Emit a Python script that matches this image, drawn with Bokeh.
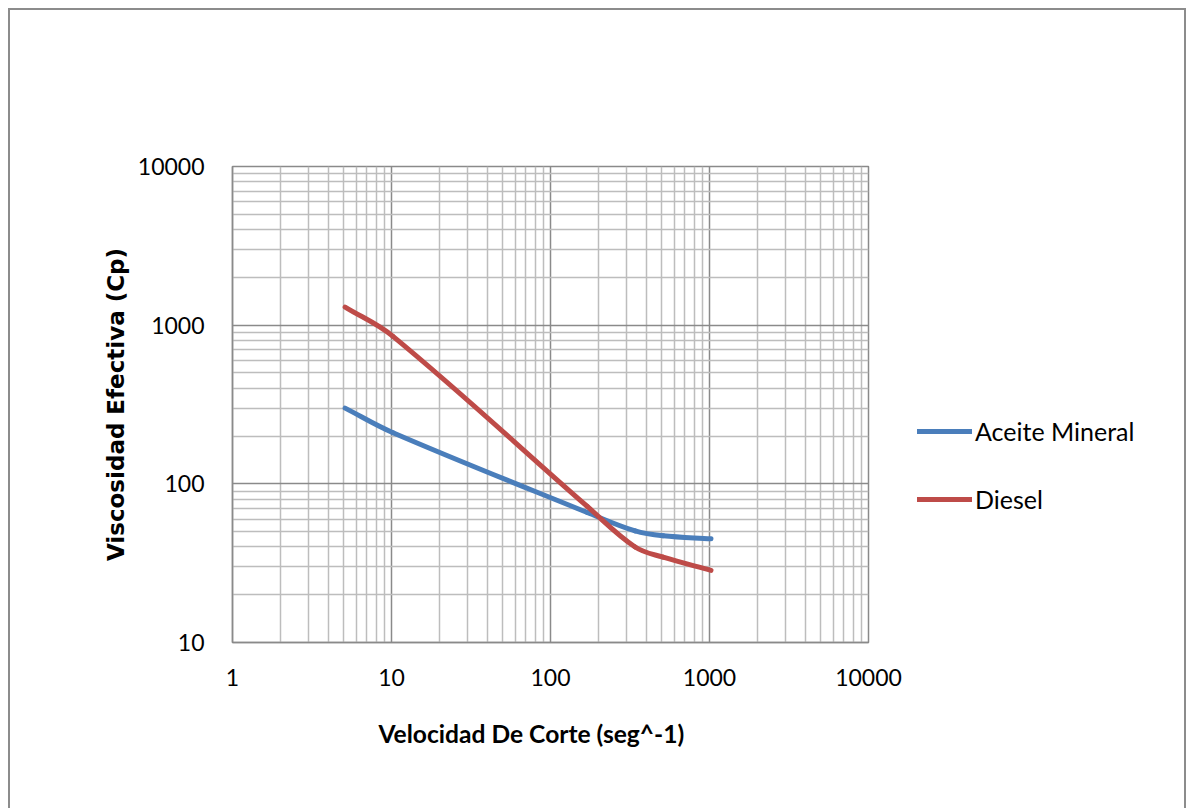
import numpy as np
from bokeh.plotting import figure
from bokeh.layouts import row
from bokeh.models import FixedTicker, NumeralTickFormatter, Legend, LegendItem, Title, Range1d
from bokeh.embed import file_html
from bokeh.resources import INLINE

# Shear rates (1/s) and effective viscosities (cP)
shear_rate = [5.11, 10.22, 170.3, 340.6, 510.9, 1021.8]
aceite_mineral = [300, 210, 66, 50.5, 47, 45]
diesel = [1300, 850, 72, 40, 34.5, 28.5]
series_names = ["Aceite Mineral", "Diesel"]

x_ticks = [1, 10, 100, 1000, 10000]
y_ticks = [10, 100, 1000, 10000]

BLUE = "#4A7EBB"
RED = "#BE4B48"
MAJOR = "#8a8a8a"
MINOR = "#bdbdbd"
FONT = "Lato"


def minor_log_ticks(ticks):
    out = []
    for t in ticks[:-1]:
        out += [m * t for m in range(2, 10)]
    return out


def smooth_segments(xs, ys, k=0.55):
    """Cubic Bezier pieces through the points, built in log-log space.
    Tangent direction at each point follows its neighbours; handle length
    is a fraction of the segment's own length, so short pieces stay tight."""
    P = np.column_stack([np.log10(np.asarray(xs, float)), np.log10(np.asarray(ys, float))])
    n = len(P)
    tang = []
    for i in range(n):
        d = P[min(i + 1, n - 1)] - P[max(i - 1, 0)]
        tang.append(d / np.hypot(*d))
    seg = {k_: [] for k_ in ("x0", "y0", "x1", "y1", "cx0", "cy0", "cx1", "cy1")}
    for i in range(n - 1):
        L = np.hypot(*(P[i + 1] - P[i]))
        c0 = P[i] + tang[i] * L * k * 2 / 3
        c1 = P[i + 1] - tang[i + 1] * L * k * 2 / 3
        seg["x0"].append(P[i, 0]); seg["y0"].append(P[i, 1])
        seg["x1"].append(P[i + 1, 0]); seg["y1"].append(P[i + 1, 1])
        seg["cx0"].append(c0[0]); seg["cy0"].append(c0[1])
        seg["cx1"].append(c1[0]); seg["cy1"].append(c1[1])
    return {k_: list(10 ** np.array(v)) for k_, v in seg.items()}


# ---- main log-log chart ----
p = figure(
    width=898, height=800,
    x_axis_type="log", y_axis_type="log",
    x_range=(x_ticks[0], x_ticks[-1]), y_range=(y_ticks[0], y_ticks[-1]),
    output_backend="svg", toolbar_location=None,
    min_border_left=222, min_border_right=40,
    min_border_top=156, min_border_bottom=168,
)
p.background_fill_color = "white"
p.border_fill_color = "white"
p.outline_line_color = MAJOR
p.outline_line_width = 1.5

p.xaxis.ticker = FixedTicker(ticks=x_ticks, minor_ticks=minor_log_ticks(x_ticks))
p.yaxis.ticker = FixedTicker(ticks=y_ticks, minor_ticks=minor_log_ticks(y_ticks))
for ax in (p.xaxis[0], p.yaxis[0]):
    ax.formatter = NumeralTickFormatter(format="0")
    ax.major_tick_line_color = None
    ax.minor_tick_line_color = None
    ax.axis_line_color = MAJOR
    ax.axis_line_width = 1.5
    ax.major_label_text_font = FONT
    ax.major_label_text_font_size = "23px"
    ax.major_label_text_color = "black"
p.xaxis.major_label_standoff = 20
p.yaxis.major_label_standoff = 22

p.yaxis.axis_label = "Viscosidad Efectiva (Cp)"
p.yaxis.axis_label_text_font = "DejaVu Sans"
p.yaxis.axis_label_text_font_style = "bold"
p.yaxis.axis_label_text_font_size = "23px"
p.yaxis.axis_label_text_color = "black"
p.yaxis.axis_label_standoff = 6

for g in (p.xgrid[0], p.ygrid[0]):
    g.grid_line_color = MAJOR
    g.grid_line_width = 1.5
    g.minor_grid_line_color = MINOR
    g.minor_grid_line_width = 1.5

blue_seg = smooth_segments(shear_rate, aceite_mineral)
red_seg = smooth_segments(shear_rate, diesel)
p.bezier(line_color=BLUE, line_width=5, line_cap="round", source=blue_seg,
         x0="x0", y0="y0", x1="x1", y1="y1", cx0="cx0", cy0="cy0", cx1="cx1", cy1="cy1")
p.bezier(line_color=RED, line_width=5, line_cap="round", source=red_seg,
         x0="x0", y0="y0", x1="x1", y1="y1", cx0="cx0", cy0="cy0", cx1="cx1", cy1="cy1")

x_title = Title(
    text="Velocidad De Corte (seg^-1)", align="left", offset=146,
    text_font=FONT, text_font_style="bold", text_font_size="24.6px",
    text_color="black", standoff=56,
)
p.add_layout(x_title, "below")

# ---- legend panel to the right of the chart ----
side = figure(
    width=276, height=800, output_backend="svg", toolbar_location=None,
    x_axis_type="log", y_axis_type="log",
    x_range=Range1d(x_ticks[0], x_ticks[-1]), y_range=Range1d(y_ticks[0], y_ticks[-1]),
    min_border=0,
)
side.axis.visible = False
side.grid.visible = False
side.outline_line_color = None
side.background_fill_color = "white"
side.border_fill_color = "white"
r_blue = side.line(shear_rate, aceite_mineral, line_color=BLUE, line_width=5, line_cap="round", visible=False)
r_red = side.line(shear_rate, diesel, line_color=RED, line_width=5, line_cap="round", visible=False)

legend = Legend(
    items=[LegendItem(label=series_names[0], renderers=[r_blue]),
           LegendItem(label=series_names[1], renderers=[r_red])],
    location=(9, 128),
    padding=0, margin=0, spacing=38,
    glyph_width=55, glyph_height=30, label_height=30, label_standoff=3,
    label_text_font=FONT, label_text_font_size="25px", label_text_color="black",
    border_line_color=None, background_fill_alpha=0, inactive_fill_alpha=0,
    click_policy="none",
)
side.add_layout(legend, "center")

layout = row(p, side)
layout.margin = (8, 0, 0, 8)
layout.styles = {
    "border-left": "2px solid #8c8c8c",
    "border-top": "2px solid #8c8c8c",
    "border-right": "2px solid #8c8c8c",
}

open("out.html", "w").write(file_html(layout, INLINE))
